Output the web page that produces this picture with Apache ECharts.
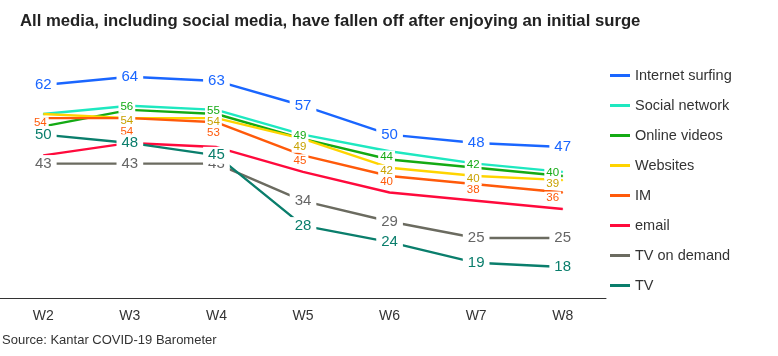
<!DOCTYPE html>
<html>
<head>
<meta charset="utf-8">
<script src="https://cdn.jsdelivr.net/npm/echarts@6/dist/echarts.min.js"></script>
<style>
  html, body { margin: 0; padding: 0; background: #fff; }
  #chart { width: 778px; height: 356px; }
</style>
</head>
<body>
<div id="chart"></div>
<script>
const categories = ['W2', 'W3', 'W4', 'W5', 'W6', 'W7', 'W8'];
const internetSurfing = [62, 64, 63, 57, 50, 48, 47];
const socialNetwork   = [55, 57, 56, 50, 46, 43, 41];
const onlineVideos    = [52, 56, 55, 49, 44, 42, 40];
const websites        = [55, 54, 54, 49, 42, 40, 39];
const im              = [54, 54, 53, 45, 40, 38, 36];
const email           = [45, 48, 47, 41, 36, 34, 32];
const tvOnDemand      = [43, 43, 43, 34, 29, 25, 25];
const tv              = [50, 48, 45, 28, 24, 19, 18];

const FONT = 'Liberation Sans, Arial, sans-serif';

const seriesDefs = [
  { name: 'Internet surfing', data: internetSurfing, color: '#1a66ff', labelColor: '#1a66ff', labels: 'all', big: true },
  { name: 'Social network',   data: socialNetwork,   color: '#1ee8c0', labelColor: '#1ee8c0', labels: 'none' },
  { name: 'Online videos',    data: onlineVideos,    color: '#14aa14', labelColor: '#14aa14', labels: 'skipFirst', big: false, stackGap: -3 },
  { name: 'Websites',         data: websites,        color: '#ffd400', labelColor: '#c8a200', labels: 'skipFirst', big: false, stackGap: 3 },
  { name: 'IM',               data: im,              color: '#ff5a0a', labelColor: '#ff5a0a', labels: 'all', big: false, stackGap: 5 },
  { name: 'email',            data: email,           color: '#ff0a3c', labelColor: '#ff0a3c', labels: 'none' },
  { name: 'TV on demand',     data: tvOnDemand,      color: '#6b6b60', labelColor: '#666666', labels: 'all', big: true },
  { name: 'TV',               data: tv,              color: '#0a7e6c', labelColor: '#0a7e6c', labels: 'all', big: true }
];

function labelShown(d, i) {
  if (d.labels === 'none') return false;
  if (d.labels === 'skipFirst' && i === 0) return false;
  return true;
}

function buildSeries(offsets) {
  return seriesDefs.map(function (d, s) {
    return {
      name: d.name,
      type: 'line',
      symbol: 'circle',
      symbolSize: 1,
      showSymbol: true,
      lineStyle: { color: d.color, width: 2.4 },
      itemStyle: { color: d.color },
      label: {
        show: d.labels !== 'none',
        position: 'inside',
        color: d.labelColor,
        fontFamily: FONT,
        fontSize: d.big ? 15 : 11.5,
        backgroundColor: '#ffffff',
        padding: d.big ? [1, 5] : [0, 2]
      },
      data: d.data.map(function (v, i) {
        if (!labelShown(d, i)) return { value: v, label: { show: false } };
        if (offsets && offsets[s] && offsets[s][i]) {
          return { value: v, label: { offset: offsets[s][i] } };
        }
        return v;
      })
    };
  });
}

const chart = echarts.init(document.getElementById('chart'), null, { renderer: 'canvas' });
chart.setOption({
  animation: false,
  backgroundColor: '#ffffff',
  textStyle: { fontFamily: FONT },
  color: seriesDefs.map(function (d) { return d.color; }),
  title: [
    {
      text: 'All media, including social media, have fallen off after enjoying an initial surge',
      left: 20, top: 13, padding: 0,
      textStyle: { fontSize: 16.7, fontWeight: 'bold', color: '#222', fontFamily: FONT }
    },
    {
      text: 'Source: Kantar COVID-19 Barometer',
      left: 2, top: 334, padding: 0,
      textStyle: { fontSize: 13, fontWeight: 'normal', color: '#333', fontFamily: FONT }
    }
  ],
  legend: {
    orient: 'vertical',
    left: 605,
    top: 63,
    itemGap: 15,
    itemWidth: 20,
    itemHeight: 3,
    icon: 'rect',
    textStyle: { fontSize: 14.5, color: '#333', fontFamily: FONT },
    data: seriesDefs.map(function (d) { return d.name; })
  },
  grid: { left: -5, width: 611, top: 52, bottom: 56, containLabel: false },
  xAxis: {
    type: 'category',
    data: categories,
    boundaryGap: true,
    offset: -2,
    axisLine: { lineStyle: { color: '#333', width: 1 } },
    axisTick: { show: false },
    axisLabel: { fontSize: 14, color: '#333', margin: 11, fontFamily: FONT }
  },
  yAxis: {
    type: 'value',
    min: 10,
    max: 70,
    show: false,
    splitLine: { show: false }
  },
  series: buildSeries(null)
});

// Stack the small data labels at each week so they do not overlap,
// using the library's own scale to find each point's pixel position.
const smallIdx = [];
seriesDefs.forEach(function (d, s) { if (d.labels !== 'none' && !d.big) smallIdx.push(s); });
const offsets = {};
smallIdx.forEach(function (s) { offsets[s] = []; });
const lastIndex = categories.length - 1;
for (let i = 0; i < categories.length; i++) {
  let prevY = -Infinity;
  smallIdx.forEach(function (s) {
    const d = seriesDefs[s];
    if (!labelShown(d, i)) return;
    const py = chart.convertToPixel({ seriesIndex: s }, [i, d.data[i]])[1];
    const ly = Math.max(py + d.stackGap, prevY + 11);
    prevY = ly;
    offsets[s][i] = [i === lastIndex ? -10 : -3, ly - py];
  });
}
chart.setOption({ series: buildSeries(offsets) });
</script>
</body>
</html>
